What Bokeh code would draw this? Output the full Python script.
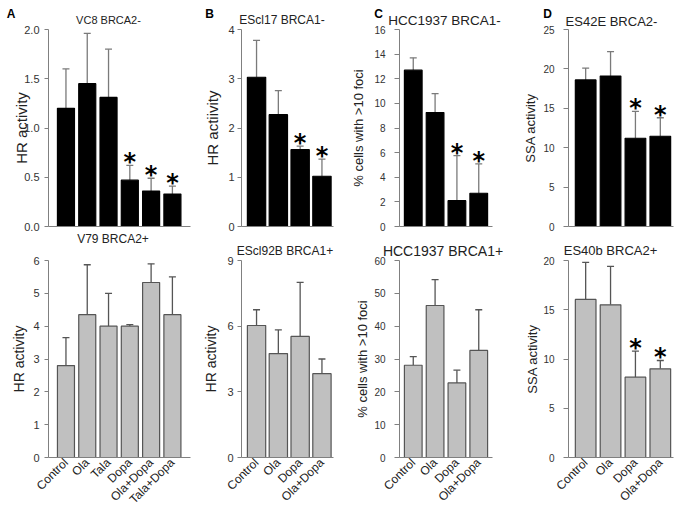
import math
from bokeh.plotting import figure
from bokeh.models import (Range1d, FixedTicker, ColumnDataSource, Whisker, TeeHead,
                          NumeralTickFormatter, GridBox)
from bokeh.embed import file_html
from bokeh.resources import INLINE
from bokeh.core.properties import value

# ---------------- data ----------------
cats_a = ["Control", "Ola", "Tala", "Dopa", "Ola+Dopa", "Tala+Dopa"]
cats_bcd = ["Control", "Ola", "Dopa", "Ola+Dopa"]

a_top_vals = [1.20, 1.45, 1.31, 0.47, 0.36, 0.33]
a_top_err = [1.60, 1.96, 1.80, 0.62, 0.49, 0.41]
a_top_sig = [0, 0, 0, 1, 1, 1]

a_bot_vals = [2.80, 4.35, 4.00, 4.00, 5.33, 4.35]
a_bot_err = [3.65, 5.87, 5.00, 4.05, 5.90, 5.50]
a_bot_sig = [0, 0, 0, 0, 0, 0]

b_top_vals = [3.03, 2.27, 1.56, 1.02]
b_top_err = [3.78, 2.76, 1.63, 1.37]
b_top_sig = [0, 0, 1, 1]

b_bot_vals = [6.03, 4.75, 5.53, 3.83]
b_bot_err = [6.75, 5.83, 8.00, 4.50]
b_bot_sig = [0, 0, 0, 0]

c_top_vals = [12.7, 9.25, 2.10, 2.70]
c_top_err = [13.7, 10.8, 5.75, 5.08]
c_top_sig = [0, 0, 1, 1]

c_bot_vals = [28.1, 46.3, 22.7, 32.6]
c_bot_err = [30.7, 54.2, 26.6, 45.0]
c_bot_sig = [0, 0, 0, 0]

d_top_vals = [18.6, 19.1, 11.2, 11.45]
d_top_err = [20.1, 22.2, 14.6, 13.8]
d_top_sig = [0, 0, 1, 1]

d_bot_vals = [16.05, 15.5, 8.15, 9.0]
d_bot_err = [19.8, 19.4, 10.8, 9.85]
d_bot_sig = [0, 0, 1, 1]

panel_letters = ["A", "B", "C", "D"]
top_titles = ["VC8 BRCA2-", "EScl17 BRCA1-", "HCC1937 BRCA1-", "ES42E BRCA2-"]
bottom_titles = ["V79 BRCA2+", "EScl92B BRCA1+", "HCC1937 BRCA1+", "ES40b BRCA2+"]

FONT = "Liberation Sans"
W, H = 681, 521


def make_panel(cats, vals, errs, sig, ymax, yticks, yfmt, ylabel, ylabel_px, ylabel_standoff,
               width, height, borders, xr, bar_w, bottom_row, tick_px, tick_out, tick_standoff):
    left, right, top, bottom = borders
    p = figure(width=width, height=height, output_backend="svg", toolbar_location=None,
               x_range=Range1d(*xr), y_range=Range1d(0, ymax),
               min_border_left=left, min_border_right=right,
               min_border_top=top, min_border_bottom=bottom)
    p.outline_line_color = None
    p.grid.visible = False
    p.background_fill_color = "white"
    p.border_fill_color = "white"

    xs = list(range(len(cats)))
    src = ColumnDataSource(dict(x=xs, val=vals, err=errs))
    if bottom_row:
        fill, outline, wc = "#c0c0c0", "#555555", "#555555"
    else:
        fill, outline, wc = "#000000", "#000000", "#7a7a7a"
    p.vbar(x="x", top="val", bottom=0, width=bar_w, source=src,
           fill_color=fill, line_color=outline, line_width=1.2)
    wh = Whisker(source=src, base="x", lower="val", upper="err", dimension="height",
                 line_color=wc, line_width=1.3,
                 upper_head=TeeHead(size=7, line_color=wc, line_width=1.3), lower_head=None)
    p.add_layout(wh)

    sx = [i for i, s in enumerate(sig) if s]
    sy = [errs[i] for i in sx]
    if sx:
        p.text(x=sx, y=sy, text=["*"] * len(sx), text_font=value("DejaVu Sans"),
               text_font_style="bold", text_font_size="24px", text_align="center",
               text_baseline="alphabetic", y_offset=-3, text_color="#000000")

    ya = p.yaxis[0]
    ya.ticker = FixedTicker(ticks=yticks)
    ya.formatter = NumeralTickFormatter(format=yfmt)
    ya.minor_tick_line_color = None
    ya.major_tick_in = 0
    ya.major_tick_out = tick_out
    ya.axis_line_color = "#808080"
    ya.major_tick_line_color = "#808080"
    ya.major_label_text_font = FONT
    ya.major_label_text_font_size = tick_px
    ya.major_label_text_color = "#333333"
    ya.major_label_standoff = tick_standoff
    ya.axis_label = ylabel
    ya.axis_label_text_font = FONT
    ya.axis_label_text_font_size = ylabel_px
    ya.axis_label_text_font_style = "normal"
    ya.axis_label_text_color = "#222222"
    ya.axis_label_standoff = ylabel_standoff

    xa = p.xaxis[0]
    xa.axis_line_color = "#808080"
    xa.minor_tick_line_color = None
    xa.major_tick_line_color = None
    xa.major_tick_in = 0
    xa.major_tick_out = 0
    if bottom_row:
        xa.ticker = FixedTicker(ticks=xs)
        xa.major_label_overrides = {i: c for i, c in zip(xs, cats)}
        xa.major_label_orientation = math.pi / 4
        xa.major_label_text_font = FONT
        xa.major_label_text_font_size = "12px"
        xa.major_label_text_color = "#222222"
        xa.major_label_standoff = 3
    else:
        xa.ticker = FixedTicker(ticks=[])
        xa.major_label_standoff = 0
    return p


TOP_H, BOT_H = 233, 288
WA, WB, WC, WD = 200, 148, 172, 161
# borders: left, right, top, bottom
pa1 = make_panel(cats_a, a_top_vals, a_top_err, a_top_sig, 2.0, [0, 0.5, 1.0, 1.5, 2.0], "0.0",
                 "HR activity", "15px", -9, WA, TOP_H, (48, 10, 29, 7), (-0.82, 5.85), 0.8,
                 False, "11px", 4, 5)
pb1 = make_panel(cats_bcd, b_top_vals, b_top_err, b_top_sig, 4, [0, 1, 2, 3, 4], "0",
                 "HR actiivity", "15px", 4, WB, TOP_H, (38, 15, 29, 7), (-0.69, 3.53), 0.84,
                 False, "11px", 4, 3)
pc1 = make_panel(cats_bcd, c_top_vals, c_top_err, c_top_sig, 16, list(range(0, 17, 2)), "0",
                 "% cells with >10 foci", "13px", 5, WC, TOP_H, (49, 28, 29, 7), (-0.63, 3.63),
                 0.81, False, "10px", 5, 9)
pd1 = make_panel(cats_bcd, d_top_vals, d_top_err, d_top_sig, 25, [0, 5, 10, 15, 20, 25], "0",
                 "SSA activity", "13px", 2, WD, TOP_H, (46, 8, 29, 7), (-0.69, 3.53), 0.83,
                 False, "10px", 5, 9)

pa2 = make_panel(cats_a, a_bot_vals, a_bot_err, a_bot_sig, 6, [0, 1, 2, 3, 4, 5, 6], "0",
                 "HR activity", "14px", 3, WA, BOT_H, (48, 10, 27, 64), (-0.82, 5.85), 0.8,
                 True, "11px", 4, 5)
pb2 = make_panel(cats_bcd, b_bot_vals, b_bot_err, b_bot_sig, 9, [0, 3, 6, 9], "0",
                 "HR activity", "14px", 5, WB, BOT_H, (38, 15, 27, 64), (-0.69, 3.53), 0.84,
                 True, "11px", 4, 4)
pc2 = make_panel(cats_bcd, c_bot_vals, c_bot_err, c_bot_sig, 60, [0, 10, 20, 30, 40, 50, 60],
                 "0", "% cells with >10 foci", "13px", 1, WC, BOT_H, (49, 28, 27, 64),
                 (-0.63, 3.63), 0.81, True, "10px", 5, 9)
pd2 = make_panel(cats_bcd, d_bot_vals, d_bot_err, d_bot_sig, 20, [0, 5, 10, 15, 20], "0",
                 "SSA activity", "13px", 0, WD, BOT_H, (46, 8, 27, 64), (-0.69, 3.53), 0.83,
                 True, "10px", 5, 9)

# ---- transparent overlay carrying panel letters and panel titles ----
ov = figure(width=W, height=H, output_backend="svg", toolbar_location=None,
            x_range=Range1d(0, W), y_range=Range1d(H, 0),
            x_axis_location=None, y_axis_location=None,
            min_border_left=0, min_border_right=0, min_border_top=0, min_border_bottom=0)
ov.frame_align = False
ov.outline_line_color = None
ov.grid.visible = False
ov.background_fill_color = None
ov.border_fill_color = None
ov.background_fill_alpha = 0
ov.border_fill_alpha = 0

letter_src = ColumnDataSource(dict(x=[10.5, 209, 378, 547], y=[13, 13.5, 13.5, 13.5],
                                   t=panel_letters))
ov.text(x="x", y="y", text="t", source=letter_src, text_font=value(FONT),
        text_font_style="bold", text_font_size="12px", text_align="center",
        text_baseline="middle", text_color="#000000")

title_src = ColumnDataSource(dict(
    x=[108, 281.5, 444, 611, 112.5, 284.5, 442.5, 610],
    y=[19, 19, 19.5, 20.5, 238, 250, 250, 250],
    t=top_titles + bottom_titles,
    s=["11px", "12px", "13.5px", "13px", "12px", "12px", "14px", "13px"]))
ov.text(x="x", y="y", text="t", source=title_src, text_font=value(FONT),
        text_font_size="s", text_align="center", text_baseline="middle",
        text_color="#222222")

grid = GridBox(children=[(pa1, 0, 0), (pb1, 0, 1), (pc1, 0, 2), (pd1, 0, 3),
                         (pa2, 1, 0), (pb2, 1, 1), (pc2, 1, 2), (pd2, 1, 3),
                         (ov, 0, 0, 2, 4)], spacing=0)

with open("out.html", "w") as f:
    f.write(file_html(grid, INLINE))
